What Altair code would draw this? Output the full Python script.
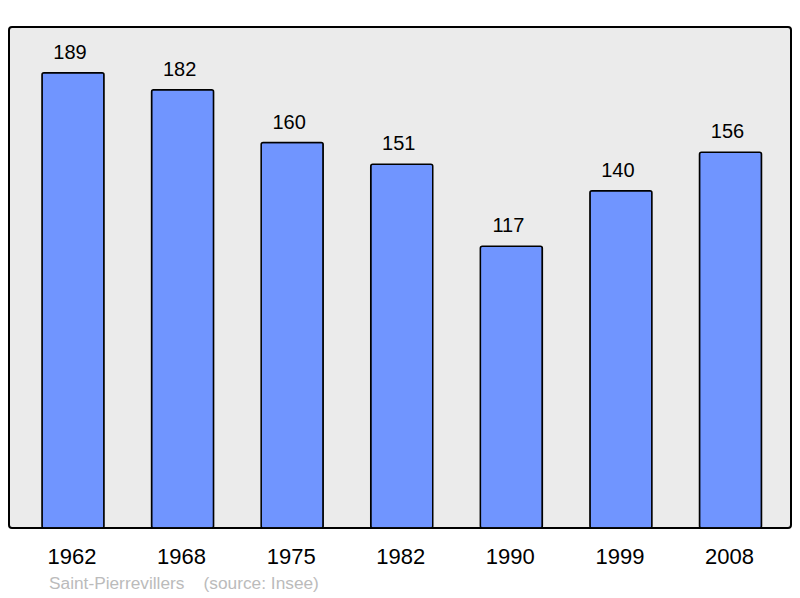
import altair as alt
import pandas as pd

years = ["1962", "1968", "1975", "1982", "1990", "1999", "2008"]
population = [189, 182, 160, 151, 117, 140, 156]
footer = ["Saint-Pierrevillers\u00a0\u00a0\u00a0\u00a0(source: Insee)"]

df = pd.DataFrame({"year": years, "pop": population})
foot_df = pd.DataFrame({"t": footer})

x = alt.X("year:N", sort=years, title=None,
          scale=alt.Scale(paddingInner=0.434, paddingOuter=0.285, align=0.528),
          axis=alt.Axis(labelAngle=0, labelFontSize=22, labelFont="Liberation Sans",
                        labelColor="black", ticks=False, domain=False,
                        labelBaseline="alphabetic", labelPadding=35, labelOffset=-1))
y = alt.Y("pop:Q", title=None, scale=alt.Scale(domain=[0, 208], nice=False),
          axis=None)

bars = alt.Chart(df).mark_bar(fill="#7095ff", stroke="black", strokeWidth=1.5,
                              cornerRadius=2).encode(x=x, y=y)
labels = alt.Chart(df).mark_text(fontSize=20, font="Liberation Sans", color="black",
                                 baseline="alphabetic", dy=-14, dx=-3).encode(
    x=alt.X("year:N", sort=years), y="pop:Q", text="pop:Q")
foot = alt.Chart(foot_df).mark_text(fontSize=17.3, font="Liberation Sans", color="#bbbbbb",
                                    align="left", baseline="alphabetic").encode(
    x=alt.value(40), y=alt.value(562), text="t:N")

chart = alt.layer(bars, labels, foot).properties(
    width=782, height=501,
    autosize=alt.AutoSizeParams(type="none"),
    padding={"left": 1, "top": 19, "right": 1, "bottom": 69},
    background="white",
).configure_view(stroke="black", strokeWidth=2, fill="#ebebeb", cornerRadius=3)

chart.save("out.html", embed_options={"renderer": "svg", "actions": False})
